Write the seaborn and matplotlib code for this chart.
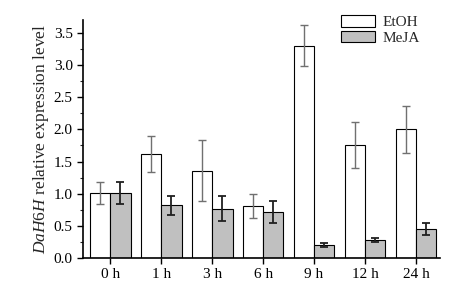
import matplotlib
matplotlib.use("Agg")
import matplotlib.pyplot as plt
import seaborn as sns
import pandas as pd
import numpy as np
from matplotlib.ticker import MultipleLocator

times = ["0 h", "1 h", "3 h", "6 h", "9 h", "12 h", "24 h"]
etoh = [1.01, 1.62, 1.36, 0.81, 3.30, 1.76, 2.00]
etoh_err = [0.17, 0.28, 0.47, 0.18, 0.32, 0.36, 0.37]
meja = [1.01, 0.82, 0.77, 0.71, 0.20, 0.28, 0.45]
meja_err = [0.17, 0.15, 0.20, 0.17, 0.03, 0.03, 0.09]

sns.set_theme(style="ticks")
plt.rcParams["font.family"] = ["Liberation Serif", "DejaVu Serif"]
plt.rcParams["mathtext.fontset"] = "custom"
plt.rcParams["mathtext.it"] = "Liberation Serif:italic"
plt.rcParams["mathtext.rm"] = "Liberation Serif"

df = pd.DataFrame({
    "time": times * 2,
    "value": etoh + meja,
    "group": ["EtOH"] * len(times) + ["MeJA"] * len(times),
})

fig = plt.figure(figsize=(4.7, 2.89), dpi=100)
ax = fig.add_axes([0.177, 0.107, 0.759, 0.824])
sns.barplot(data=df, x="time", y="value", hue="group", order=times,
            hue_order=["EtOH", "MeJA"], palette={"EtOH": "white", "MeJA": "#c0c0c0"},
            errorbar=None, width=0.8, edgecolor="black", linewidth=0.8, ax=ax, saturation=1)

n = len(times)
bars = [p for p in ax.patches if p.get_height() > 0][:2 * n]
bars_e = sorted(bars[:n], key=lambda p: p.get_x())
bars_m = sorted(bars[n:], key=lambda p: p.get_x())
for p, e in zip(bars_e, etoh_err):
    ax.errorbar(p.get_x() + p.get_width() / 2, p.get_height(), yerr=e,
                fmt="none", ecolor="#707070", elinewidth=1.0, capsize=3, capthick=1.0)
for p, e in zip(bars_m, meja_err):
    ax.errorbar(p.get_x() + p.get_width() / 2, p.get_height(), yerr=e,
                fmt="none", ecolor="#202020", elinewidth=1.3, capsize=3, capthick=1.3)

ax.set_xlim(-0.53, 6.47)
ax.set_ylim(0, 3.7)
ax.yaxis.set_major_locator(MultipleLocator(0.5))
ax.yaxis.set_minor_locator(MultipleLocator(0.25))
ax.yaxis.set_major_formatter(matplotlib.ticker.FormatStrFormatter("%.1f"))
ax.tick_params(axis="both", labelsize=11, direction="out", width=1, length=4, colors="black")
ax.tick_params(axis="y", which="minor", length=2.5, width=0.8)
ax.set_xlabel("")
ax.set_ylabel(r"$DaH6H$ relative expression level", fontsize=12.5, labelpad=2)
for s in ["top", "right"]:
    ax.spines[s].set_visible(False)
for s in ["left", "bottom"]:
    ax.spines[s].set_linewidth(1.2)
    ax.spines[s].set_color("black")

leg = ax.legend(loc="upper right", bbox_to_anchor=(0.97, 1.06), frameon=False,
                fontsize=11, handlelength=2.2, handleheight=0.8, labelspacing=0.1,
                borderaxespad=0.2, handletextpad=0.5)
fig.savefig("out.png", dpi=100)
